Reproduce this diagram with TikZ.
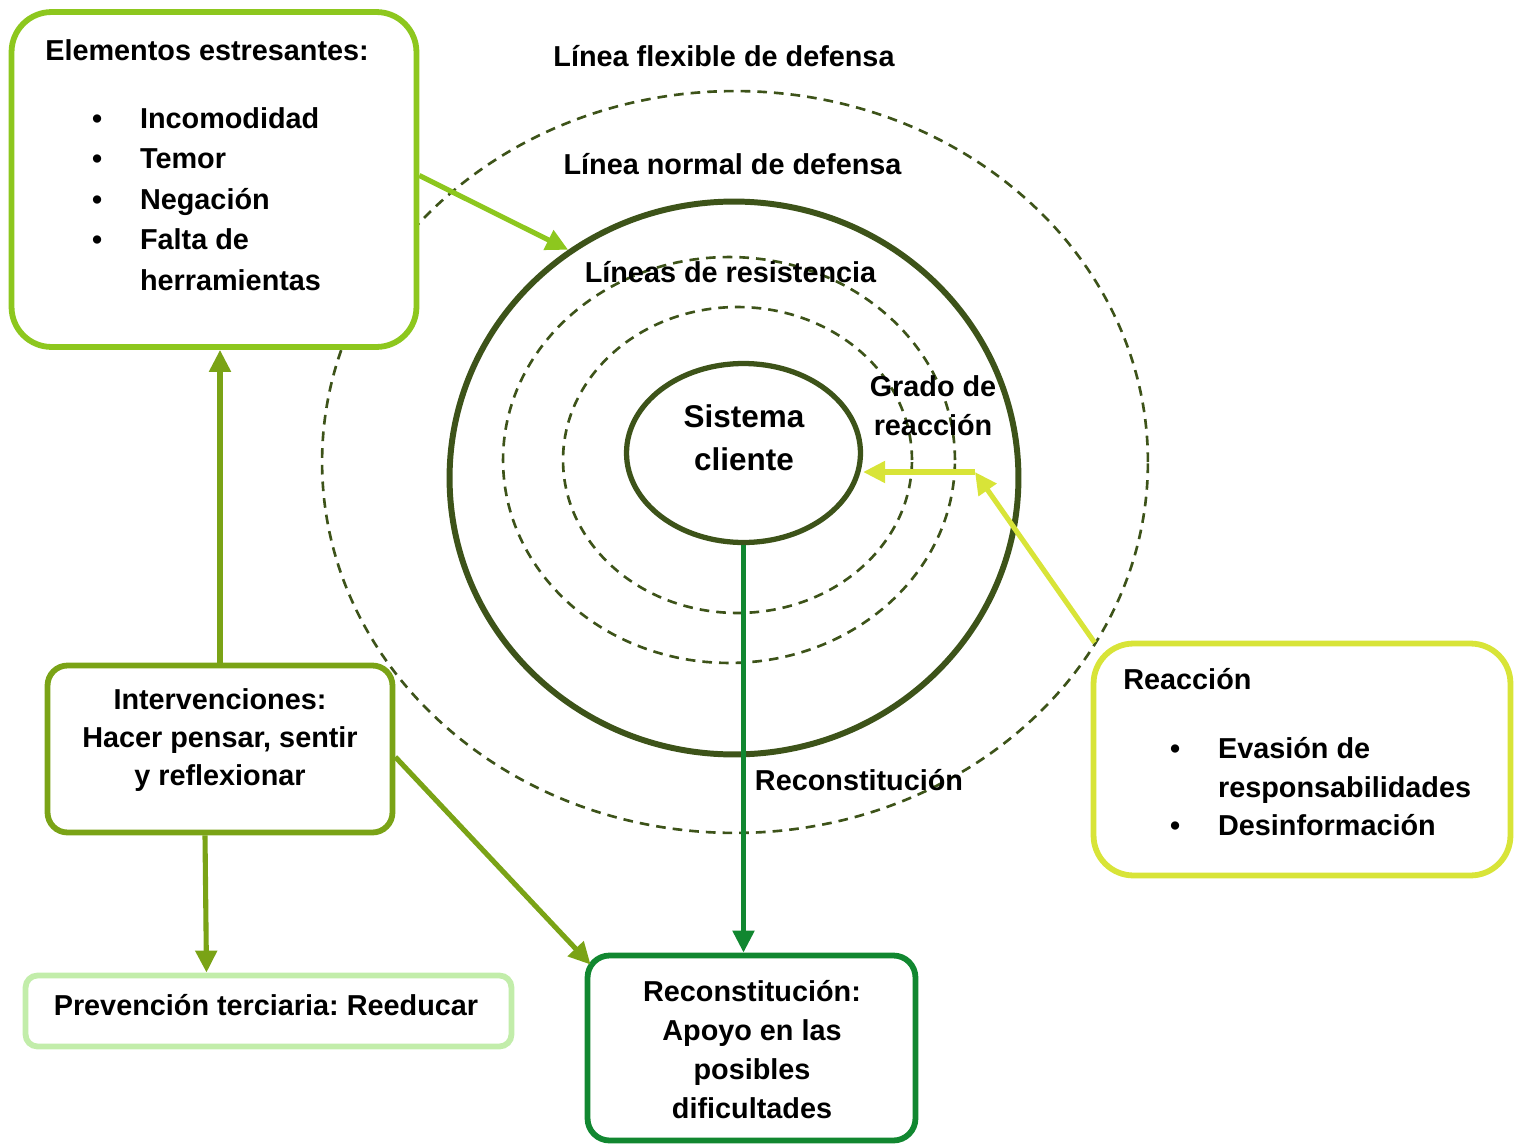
\documentclass[tikz,border=0pt]{standalone}
\usepackage{fontspec}
\setmainfont{Liberation Sans}
\usetikzlibrary{arrows.meta,shapes.geometric,calc}

\definecolor{stressgreen}{RGB}{141,199,30}
\definecolor{intervgreen}{RGB}{122,163,22}
\definecolor{prevgreen}{RGB}{194,237,170}
\definecolor{recongreen}{RGB}{17,135,48}
\definecolor{reactyellow}{RGB}{216,228,56}
\definecolor{circlegreen}{RGB}{61,83,25}

\newcommand{\bulitem}[1]{\hspace*{26.6pt}\makebox[27.3pt][l]{\textbullet}#1}

\begin{document}
\frenchspacing
\begin{tikzpicture}[x=0.02cm, y=-0.02cm,
    every node/.style={inner sep=0pt, font=\bfseries\fontsize{16.4}{22.7}\selectfont},
    frame/.style={draw, line width=3.3pt, fill=white},
    rim/.style={draw=circlegreen, line width=1.5pt, dash pattern=on 5.5pt off 4pt},
    flow/.style={line width=2.9pt, -{Triangle[length=0.44cm, width=0.42cm]}}]
    \useasboundingbox (0,0) rectangle (1515,1146);

    % lines of defence
    \draw[rim] (735,462) ellipse [x radius=8.26cm, y radius=7.42cm];
    \draw[rim] (729,460) ellipse [x radius=4.52cm, y radius=4.06cm];
    \draw[rim] (737.5,460) ellipse [x radius=3.49cm, y radius=3.06cm];
    \node[ellipse, draw=circlegreen, line width=3.4pt, minimum width=11.38cm, minimum height=11.06cm] (normal) at (734,478) {};
    \node[ellipse, draw=circlegreen, line width=3pt, minimum width=4.68cm, minimum height=3.58cm] (client) at (743.5,453) {};

    \node (flexlbl) at (724,56) {Línea flexible de defensa};
    \node (normlbl) at (732.5,164) {Línea normal de defensa};
    \node (reslbl) at (730.5,272) {Líneas de resistencia};
    \node[align=center, font=\bfseries\fontsize{16.4}{22.1}\selectfont] (gradolbl) at (933,406) {Grado de\\reacción};
    \node[align=center, font=\bfseries\fontsize{17.9}{24.4}\selectfont] (clienttxt) at (744,437.5) {Sistema\\cliente};
    \node (reconlbl) at (859,780) {Reconstitución};

    % boxes
    \node[frame, draw=stressgreen, rounded corners=0.8cm, minimum width=8.1cm, minimum height=6.7cm] (stress) at (214,179.5) {};
    \node[frame, draw=intervgreen, rounded corners=0.4cm, minimum width=6.9cm, minimum height=3.34cm] (interv) at (220,749) {};
    \node[frame, draw=prevgreen, rounded corners=0.24cm, minimum width=9.72cm, minimum height=1.42cm] (prev) at (268.5,1011) {};
    \node[frame, draw=recongreen, rounded corners=0.44cm, minimum width=6.56cm, minimum height=3.7cm] (recon) at (751.5,1048) {};
    \node[frame, draw=reactyellow, rounded corners=0.8cm, minimum width=8.34cm, minimum height=4.64cm] (react) at (1302,759.5) {};

    \node[anchor=north west, align=left, font=\bfseries\fontsize{16.4}{23.1}\selectfont] (stresstxt) at (45,39.5)
        {Elementos estresantes:\\[15.2pt]
         \bulitem{Incomodidad}\\
         \bulitem{Temor}\\
         \bulitem{Negación}\\
         \bulitem{Falta de}\\
         \hspace*{53.9pt}herramientas};
    \node[align=center, font=\bfseries\fontsize{16.4}{21.5}\selectfont] (intervtxt) at (220,740)
        {Intervenciones:\\Hacer pensar, sentir\\y reflexionar};
    \node (prevtxt) at (266,1005) {Prevención terciaria: Reeducar};
    \node[align=center, font=\bfseries\fontsize{16.4}{22.1}\selectfont] (recontxt) at (752,1049.5)
        {Reconstitución:\\Apoyo en las\\posibles\\dificultades};
    \node[anchor=north west, align=left, font=\bfseries\fontsize{16.4}{22.1}\selectfont] (reacttxt) at (1123,668)
        {Reacción\\[17pt]
         \bulitem{Evasión de}\\
         \hspace*{53.9pt}responsabilidades\\
         \bulitem{Desinformación}};

    % arrows
    \coordinate (gradopt) at (975,472);
    \draw[flow, stressgreen] ($(stress.east)+(0,-4)$) -- (normal.126.5);
    \draw[flow, intervgreen] (interv.north) -- (interv.north |- stress.south);
    \draw[flow, intervgreen] ($(interv.south)+(-15,0)$) -- ($(prev.north)+(-62,0)$);
    \draw[flow, intervgreen] ($(interv.east)+(0,8)$) -- ($(recon.north west)+(6,12)$);
    \draw[flow, recongreen] (client.south) -- (client.south |- recon.north);
    \draw[flow, reactyellow] ($(react.north west)+(4,2)$) -- (gradopt);
    \draw[flow, reactyellow] (gradopt) -- (gradopt -| client.east);
\end{tikzpicture}
\end{document}
